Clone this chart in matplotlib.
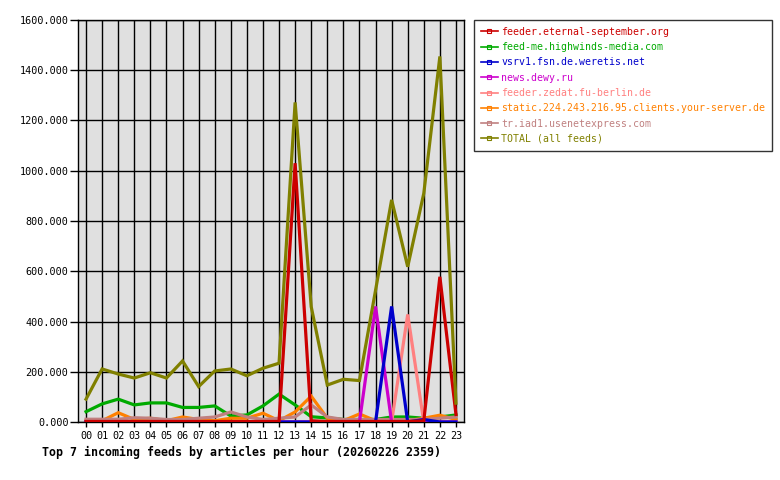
import matplotlib
matplotlib.use("Agg")
import matplotlib.pyplot as plt
from matplotlib.lines import Line2D

plt.rcParams["font.family"] = ["DejaVu Sans Mono"]

hours = ["00","01","02","03","04","05","06","07","08","09","10","11",
         "12","13","14","15","16","17","18","19","20","21","22","23"]

feeds = ["feeder.eternal-september.org", "feed-me.highwinds-media.com",
         "vsrv1.fsn.de.weretis.net", "news.dewy.ru", "feeder.zedat.fu-berlin.de",
         "static.224.243.216.95.clients.your-server.de",
         "tr.iad1.usenetexpress.com", "TOTAL (all feeds)"]

eternal   = [2, 2, 2, 2, 2, 2, 2, 2, 2, 2, 2, 2, 2, 1030, 5, 2, 2, 2, 2, 2, 2, 5, 578, 30]
highwinds = [41, 72, 91, 68, 76, 76, 58, 58, 64, 24, 28, 64, 111, 68, 21, 16, 10, 10, 10, 20, 20, 15, 20, 28]
weretis   = [0, 0, 0, 0, 0, 0, 0, 0, 0, 0, 0, 0, 0, 0, 0, 0, 0, 0, 0, 460, 0, 10, 0, 0]
dewy      = [0, 0, 0, 0, 0, 0, 0, 0, 0, 0, 0, 0, 0, 0, 0, 0, 0, 0, 460, 0, 0, 0, 0, 0]
zedat     = [0, 0, 0, 0, 0, 0, 0, 0, 0, 0, 0, 0, 0, 0, 0, 0, 0, 0, 0, 0, 428, 0, 0, 0]
static    = [5, 5, 37, 10, 15, 5, 20, 10, 5, 15, 15, 35, 5, 40, 103, 15, 5, 32, 5, 5, 5, 15, 27, 10]
usenetexp = [11, 11, 11, 17, 15, 10, 10, 15, 20, 40, 20, 10, 15, 20, 68, 20, 10, 10, 10, 10, 10, 10, 15, 20]
total     = [91, 211, 191, 175, 196, 175, 243, 141, 203, 211, 184, 214, 234, 1272, 459, 147, 170, 165, 524, 884, 618, 910, 1455, 75]

series = [eternal, highwinds, weretis, dewy, zedat, static, usenetexp, total]
colors = ["#CC0000", "#00AA00", "#0000CC", "#CC00CC", "#FF8080", "#FF8000", "#C08080", "#808000"]
yticks = [0, 200, 400, 600, 800, 1000, 1200, 1400, 1600]

W, H = 780, 480
fig = plt.figure(figsize=(W/100, H/100), dpi=100)
fig.patch.set_facecolor("white")
ax = fig.add_axes([78/W, (H-422)/H, (464-78)/W, (422-20)/H])
ax.set_facecolor("#E0E0E0")

x = list(range(len(hours)))
order = [1, 5, 6, 4, 3, 2, 0, 7]
for i in order:
    ax.plot(x, series[i], color=colors[i], lw=2.3, solid_joinstyle="miter", zorder=3)

ax.set_xlim(-0.5, 23.5)
ax.set_ylim(0, 1600)
ax.set_xticks(x)
ax.set_xticklabels(hours)
ax.set_yticks(yticks)
ax.set_yticklabels([f"{v}.000" for v in yticks])
ax.grid(True, color="black", lw=1.0, zorder=1)
ax.set_axisbelow(True)
for s in ax.spines.values():
    s.set_color("black")
    s.set_linewidth(1.0)
ax.tick_params(axis="y", length=5.8, width=1, color="black", direction="out",
               labelsize=7.3, pad=1.0)
ax.tick_params(axis="x", length=3.6, width=1, color="black", direction="out",
               labelsize=7.3, pad=3.0)

handles = [Line2D([0], [0], color=c, lw=1.2, marker="s", markersize=2.5,
                  markerfacecolor="none", markeredgecolor=c, markeredgewidth=0.8)
           for c in colors]
leg = fig.legend(handles, feeds, loc="upper left",
                 bbox_to_anchor=(474/W, (H-20)/H), borderaxespad=0,
                 prop={"family": "DejaVu Sans Mono", "size": 7.15},
                 frameon=True, fancybox=False, edgecolor="black",
                 handlelength=1.7, handletextpad=0.35, labelspacing=0.53,
                 borderpad=0.7)
leg.get_frame().set_linewidth(1.0)
for t, c in zip(leg.get_texts(), colors):
    t.set_color(c)

fig.text(42/W, (H-452)/H, "Top 7 incoming feeds by articles per hour (20260226 2359)",
         family="DejaVu Sans Mono", weight="bold", fontsize=8.4, va="center", ha="left")

fig.savefig("out.png", dpi=100)
